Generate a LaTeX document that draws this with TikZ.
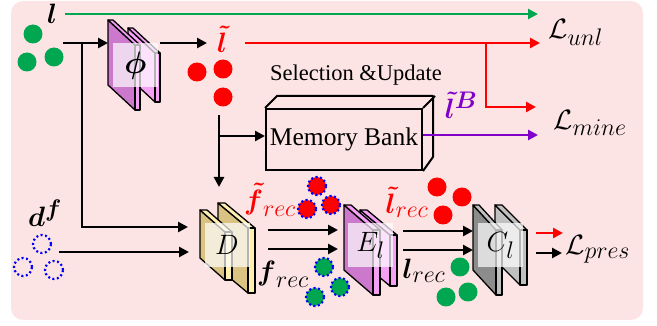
\RequirePackage{fix-cm}
\documentclass[tikz,border=0pt]{standalone}
\usepackage{amsmath, amssymb}
\usepackage{fontspec}
\setmainfont{Liberation Serif}
\usepackage{xcolor}
\usepackage{tikz}
\usetikzlibrary{arrows.meta}
\DeclareMathSizes{28}{28}{24}{17}
\DeclareMathSizes{31}{31}{24}{18}

\definecolor{bgpink}{RGB}{253,228,228}
\definecolor{dotgreen}{RGB}{0,166,80}
\definecolor{dotred}{RGB}{255,0,0}
\definecolor{lblpurple}{RGB}{128,0,200}
\definecolor{phidark}{RGB}{204,120,204}
\definecolor{philight}{RGB}{245,160,245}
\definecolor{ddark}{RGB}{218,194,130}
\definecolor{dlight}{RGB}{255,240,178}
\definecolor{cdark}{RGB}{140,140,140}
\definecolor{clight}{RGB}{192,192,192}

\tikzset{
  arr/.style={line width=2.5pt, -{Triangle[length=10pt,width=10pt]}},
  dot/.style={circle, minimum size=19pt, inner sep=0pt, fill=#1},
  ring/.style={circle, minimum size=18pt, inner sep=0pt, draw=blue, line width=2.2pt, dash pattern=on 2pt off 2.5pt},
  lbl/.style={inner sep=0pt, font=\fontsize{28}{33}\selectfont},
  platefr/.style={draw=black, line width=1.3pt, line join=round},
  face/.style={fill=white, fill opacity=0.7, text opacity=1, minimum width=45pt, minimum height=44pt, inner sep=0pt, font=\fontsize{28}{33}\selectfont},
}

% layer plate: x, y, depth, drop, height, thickness, side colour, edge colour
\newcommand{\layerplate}[8]{%
  \filldraw[platefr, fill=#7] (#1,#2) -- ++(#3,#4) -- ++(0,#5) -- ++(-#3,-#4) -- cycle;
  \filldraw[platefr, fill=#8] (#1,#2) -- ++(#6,0) -- ++(#3,#4) -- ++(-#6,0) -- cycle;
  \filldraw[platefr, fill=#8] (#1+#3,#2+#4) rectangle ++(#6,#5);
}

\begin{document}
\begin{tikzpicture}[x=1pt,y=-1pt]
\useasboundingbox (0,0) rectangle (657,326);
\fill[bgpink, rounded corners=12pt] (11,1) rectangle (643,320);

% labelled samples
\node[dot=dotgreen] (gl1) at (33,34) {};
\node[dot=dotgreen] (gl2) at (27,62) {};
\node[dot=dotgreen] (gl3) at (54,57) {};
\node[lbl] (l) at (52,14) {$\boldsymbol{l}$};

% mapping phi
\layerplate{128}{28}{27}{25}{49}{5}{philight}{philight}
\layerplate{108}{20}{27}{25}{65}{5}{phidark}{philight}
\node[face, font=\fontsize{31}{36}\selectfont] (phi) at (135.5,65.5) {$\boldsymbol{\phi}$};

\node[dot=dotred] (rl1) at (197,72) {};
\node[dot=dotred] (rl2) at (223,69) {};
\node[dot=dotred] (rl3) at (223,97) {};
\node[lbl, text=dotred] (lt) at (222,39) {$\boldsymbol{\tilde{l}}$};

% memory bank
\node[font=\fontsize{22.5}{26}\selectfont] (sel) at (356,75) {Selection \&Update};
\node[draw, line width=2pt, minimum width=156pt, minimum height=61pt, inner sep=0pt, font=\fontsize{25.5}{30}\selectfont] (mem) at (344,139.5) {Memory Bank};
\draw[line width=2pt, line join=round] (mem.north west) -- ++(12,-12) -- ++(156,0) -- ++(0,61) -- (mem.south east)
  (mem.north east) -- ++(12,-12);
\node[lbl, text=lblpurple] (lB) at (461,105) {$\boldsymbol{\tilde{l}^{B}}$};

% forgetting samples
\node[ring] (bd1) at (42,244) {};
\node[ring] (bd2) at (23,267) {};
\node[ring] (bd3) at (54,270) {};
\node[lbl] (df) at (45,213) {$\boldsymbol{d}^{\boldsymbol{f}}$};

% decoder D
\layerplate{218}{203}{30}{25}{65}{7}{ddark}{dlight}
\layerplate{200}{210}{25}{22}{48}{7}{ddark}{dlight}
\node[face] (D) at (227,245) {$D$};

\node[lbl, text=dotred] (ftr) at (270,200) {$\boldsymbol{\tilde{f}}_{rec}$};
\node[lbl] (fr) at (283,274) {$\boldsymbol{f}_{rec}$};
\node[ring, fill=dotred] (fd1) at (317,186) {};
\node[ring, fill=dotred] (fd2) at (307,209) {};
\node[ring, fill=dotred] (fd3) at (331,205) {};
\node[ring, fill=dotgreen] (fg1) at (324,267) {};
\node[ring, fill=dotgreen] (fg2) at (340,287) {};
\node[ring, fill=dotgreen] (fg3) at (315,297) {};

% encoder E_l
\layerplate{360}{210}{30}{25}{51}{7}{philight}{philight}
\layerplate{344}{205}{29}{25}{65}{7}{phidark}{philight}
\node[face] (El) at (370.5,245) {$E_l$};

\node[lbl, text=dotred] (ltr) at (407,202) {$\boldsymbol{\tilde{l}}_{rec}$};
\node[lbl] (lr) at (424,271) {$\boldsymbol{l}_{rec}$};
\node[dot=dotred] (er1) at (437,187) {};
\node[dot=dotred] (er2) at (462,197) {};
\node[dot=dotred] (er3) at (443,215) {};
\node[dot=dotgreen] (eg1) at (460,267) {};
\node[dot=dotgreen] (eg2) at (468,292) {};
\node[dot=dotgreen] (eg3) at (446,297) {};

% classifier C_l
\layerplate{495}{205}{25}{25}{55}{7}{clight}{clight}
\layerplate{473}{205}{23}{25}{65}{6}{cdark}{clight}
\node[face] (Cl) at (500.5,245) {$C_l$};

% losses
\node[lbl, anchor=west] (Lunl) at (548,32) {$\mathcal{L}_{unl}$};
\node[lbl, anchor=west] (Lmine) at (553,123) {$\mathcal{L}_{mine}$};
\node[lbl, anchor=west] (Lpres) at (565,249) {$\mathcal{L}_{pres}$};

% connectors
\coordinate (g0) at (65,14);
\coordinate (g1) at (538,14);
\path[arr, color=dotgreen] (g0) edge (g1);

\coordinate (a0) at (63,43);
\coordinate (phiin) at (108,43);
\coordinate (aj) at (82,43);
\coordinate (Din1) at (188,227);
\path[arr] (a0) edge (phiin);
\draw[arr] (aj) |- (Din1);

\coordinate (phiout) at (160,43);
\coordinate (ltin) at (207,43);
\path[arr] (phiout) edge (ltin);

\coordinate (r0) at (245,43);
\coordinate (r1) at (540,43);
\coordinate (rj) at (486,43);
\coordinate (Lminein) at (536,107);
\path[arr, color=dotred] (r0) edge (r1);
\draw[arr, color=dotred] (rj) |- (Lminein);

\coordinate (m0) at (219,115);
\coordinate (Dtop) at (219,187);
\coordinate (mj) at (219,136);
\path[arr] (m0) edge (Dtop);
\draw[arr] (mj) -- (mj -| mem.west);

\coordinate (p0) at (423,135);
\coordinate (p1) at (538,135);
\path[arr, color=lblpurple] (p0) edge (p1);

\coordinate (d0) at (59,252);
\coordinate (Din2) at (189,252);
\path[arr] (d0) edge (Din2);

\coordinate (De1) at (268,230);
\coordinate (Ei1) at (338,230);
\coordinate (De2) at (268,249);
\coordinate (Ei2) at (338,249);
\path[arr] (De1) edge (Ei1);
\path[arr] (De2) edge (Ei2);

\coordinate (Ee1) at (403,231);
\coordinate (Ci1) at (473,231);
\coordinate (Ee2) at (403,250);
\coordinate (Ci2) at (473,250);
\path[arr] (Ee1) edge (Ci1);
\path[arr] (Ee2) edge (Ci2);

\coordinate (Ce1) at (536,233);
\coordinate (Lp1) at (563,233);
\coordinate (Ce2) at (536,253);
\coordinate (Lp2) at (562,253);
\path[arr, color=dotred] (Ce1) edge (Lp1);
\path[arr] (Ce2) edge (Lp2);

\end{tikzpicture}
\end{document}
